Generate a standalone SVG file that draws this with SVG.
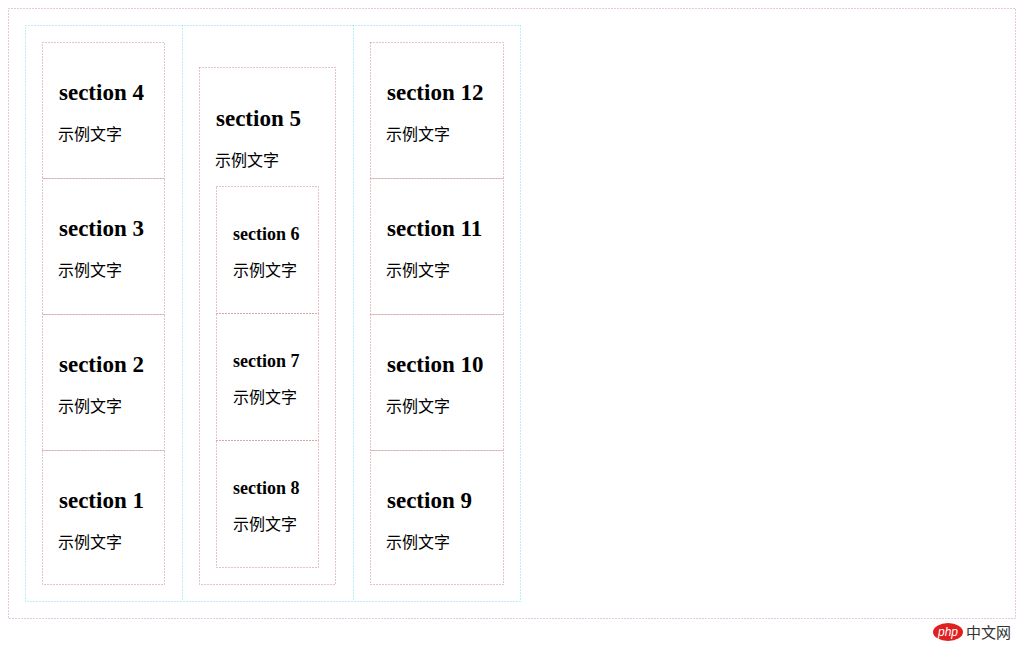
<svg xmlns="http://www.w3.org/2000/svg" width="1024" height="651" viewBox="0 0 1024 651">
<style>
.o{fill:none;stroke:#c98fc9;stroke-width:1;stroke-dasharray:1 2}
.c{fill:none;stroke:#70e0ec;stroke-width:1;stroke-dasharray:1 2}
.s{fill:none;stroke:#c88a8a;stroke-width:1;stroke-dasharray:1 2}
.h{font-family:"Liberation Serif",serif;font-weight:bold;font-size:23px;fill:#000}
.h2{font-family:"Liberation Serif",serif;font-weight:bold;font-size:18px;fill:#000}
.t{font-family:"Noto Sans CJK SC",sans-serif;font-size:16px;fill:#000}
</style>
<rect width="1024" height="651" fill="#fff"/>
<rect class="o" x="8.5" y="8.5" width="1007" height="610"/>
<g id="columns">
<rect class="c" x="25.5" y="25.5" width="495" height="576"/>
<line class="c" x1="182.5" y1="25.5" x2="182.5" y2="601.5"/>
<line class="c" x1="353.5" y1="25.5" x2="353.5" y2="601.5"/>
</g>
<g id="s4"><rect class="s" x="42.5" y="42.5" width="122" height="136"/><text class="h" x="59" y="100">section 4</text><text class="t" x="58" y="140">示例文字</text></g>
<g id="s3"><rect class="s" x="42.5" y="178.5" width="122" height="136"/><text class="h" x="59" y="236">section 3</text><text class="t" x="58" y="276">示例文字</text></g>
<g id="s2"><rect class="s" x="42.5" y="314.5" width="122" height="136"/><text class="h" x="59" y="372">section 2</text><text class="t" x="58" y="412">示例文字</text></g>
<g id="s1"><rect class="s" x="42.5" y="450.5" width="122" height="134"/><text class="h" x="59" y="508">section 1</text><text class="t" x="58" y="548">示例文字</text></g>
<g id="s5"><rect class="s" x="199.5" y="67.5" width="136" height="517"/><text class="h" x="216" y="126">section 5</text><text class="t" x="215" y="166">示例文字</text></g>
<g id="s6"><rect class="s" x="216.5" y="186.5" width="102" height="127"/><text class="h2" x="233" y="240">section 6</text><text class="t" x="233" y="276">示例文字</text></g>
<g id="s7"><rect class="s" x="216.5" y="313.5" width="102" height="127"/><text class="h2" x="233" y="367">section 7</text><text class="t" x="233" y="403">示例文字</text></g>
<g id="s8"><rect class="s" x="216.5" y="440.5" width="102" height="127"/><text class="h2" x="233" y="494">section 8</text><text class="t" x="233" y="530">示例文字</text></g>
<g id="s12"><rect class="s" x="370.5" y="42.5" width="133" height="136"/><text class="h" x="387" y="100">section 12</text><text class="t" x="386" y="140">示例文字</text></g>
<g id="s11"><rect class="s" x="370.5" y="178.5" width="133" height="136"/><text class="h" x="387" y="236">section 11</text><text class="t" x="386" y="276">示例文字</text></g>
<g id="s10"><rect class="s" x="370.5" y="314.5" width="133" height="136"/><text class="h" x="387" y="372">section 10</text><text class="t" x="386" y="412">示例文字</text></g>
<g id="s9"><rect class="s" x="370.5" y="450.5" width="133" height="134"/><text class="h" x="387" y="508">section 9</text><text class="t" x="386" y="548">示例文字</text></g>
<g id="logo">
<ellipse cx="948" cy="632" rx="15" ry="9" fill="#e02020"/>
<text x="948" y="636" text-anchor="middle" font-family="'Liberation Sans',sans-serif" font-style="italic" font-size="12" fill="#fff">php</text>
<text x="966" y="638" font-family="'Noto Sans CJK SC',sans-serif" font-size="15" fill="#333">中文网</text>
</g>
</svg>
